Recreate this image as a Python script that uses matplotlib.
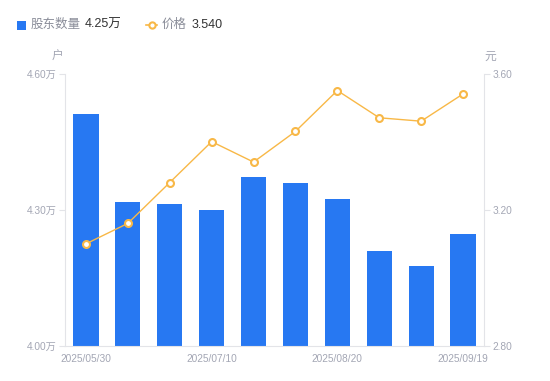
import matplotlib
matplotlib.use("Agg")
import matplotlib.pyplot as plt
from matplotlib.lines import Line2D
from matplotlib.patches import Rectangle

plt.rcParams['font.family'] = ['Liberation Sans', 'Noto Sans CJK SC', 'DejaVu Sans']

dates = ["2025/05/30", "", "", "2025/07/10", "", "", "2025/08/20", "", "", "2025/09/19"]
holders = [4.51, 4.318, 4.313, 4.30, 4.373, 4.359, 4.324, 4.209, 4.176, 4.246]   # 万户
price = [3.10, 3.16, 3.28, 3.40, 3.34, 3.43, 3.55, 3.47, 3.46, 3.54]      # 元
left_ticks = [4.00, 4.30, 4.60]
right_ticks = [2.80, 3.20, 3.60]

BLUE = "#2778F2"
ORANGE = "#F8B847"
GRAY_TXT = "#A3A6B4"
AXIS = "#E3E4E8"

fig = plt.figure(figsize=(5.5, 3.81), dpi=100)
ax = fig.add_axes([65/550, 1-346/381, (484-65)/550, (346-73.5)/381])
ax2 = ax.twinx()

x = list(range(len(dates)))
ax.bar(x, [h - left_ticks[0] for h in holders], bottom=left_ticks[0], width=0.6,
       color=BLUE, zorder=2)
ax.set_xlim(-0.5, len(dates) - 0.5)
ax.set_ylim(left_ticks[0], left_ticks[-1])
ax.set_yticks(left_ticks)
ax.set_yticklabels([f"{v:.2f}万" for v in left_ticks])

ax2.plot(x, price, color=ORANGE, lw=1.0, marker='o', ms=5, mfc='white',
         mec=ORANGE, mew=1.5, zorder=3)
ax2.set_ylim(right_ticks[0], right_ticks[-1])
ax2.set_yticks(right_ticks)
ax2.set_yticklabels([f"{v:.2f}" for v in right_ticks])

ax.set_xticks([i for i, d in enumerate(dates) if d])
ax.set_xticklabels([d for d in dates if d])

for a in (ax, ax2):
    for s in a.spines.values():
        s.set_visible(False)
    a.tick_params(colors=AXIS, labelcolor=GRAY_TXT, labelsize=7.3, length=4, width=0.8)
ax.spines['left'].set_visible(True)
ax.spines['left'].set_color(AXIS)
ax.spines['bottom'].set_visible(True)
ax.spines['bottom'].set_color(AXIS)
ax2.spines['right'].set_visible(True)
ax2.spines['right'].set_color(AXIS)
ax.tick_params(axis='x', length=0, pad=6)
ax.tick_params(axis='y', pad=2)
ax2.tick_params(axis='y', pad=2)
ax.set_zorder(ax2.get_zorder() - 1)
ax.patch.set_visible(False)

# unit labels
fig.text(58/550, 1-57/381, "户", color=GRAY_TXT, fontsize=8.5, ha='center', va='center')
fig.text(490/550, 1-57/381, "元", color=GRAY_TXT, fontsize=8.5, ha='center', va='center')

# legend
ly = 1 - 25/381
fig.patches.append(Rectangle((16.5/550, 1-29.5/381), 9/550, 9/381, transform=fig.transFigure,
                             facecolor=BLUE, edgecolor='none'))
fig.text(30.5/550, ly, "股东数量", color="#8A8D99", fontsize=9, ha='left', va='center')
fig.text(85/550, ly, f"{holders[-1]:.2f}万", color="#333333", fontsize=9, ha='left', va='center')
fig.lines.append(Line2D([146/550, 157/550], [ly, ly], transform=fig.transFigure,
                        color=ORANGE, lw=1.2))
fig.lines.append(Line2D([151.5/550], [ly], transform=fig.transFigure, color=ORANGE,
                        marker='o', ms=4.5, mfc='white', mec=ORANGE, mew=1.5))
fig.text(161.5/550, ly, "价格", color="#8A8D99", fontsize=9, ha='left', va='center')
fig.text(191.5/550, ly, f"{price[-1]:.3f}", color="#333333", fontsize=9, ha='left', va='center')

fig.savefig("out.png", dpi=100)
